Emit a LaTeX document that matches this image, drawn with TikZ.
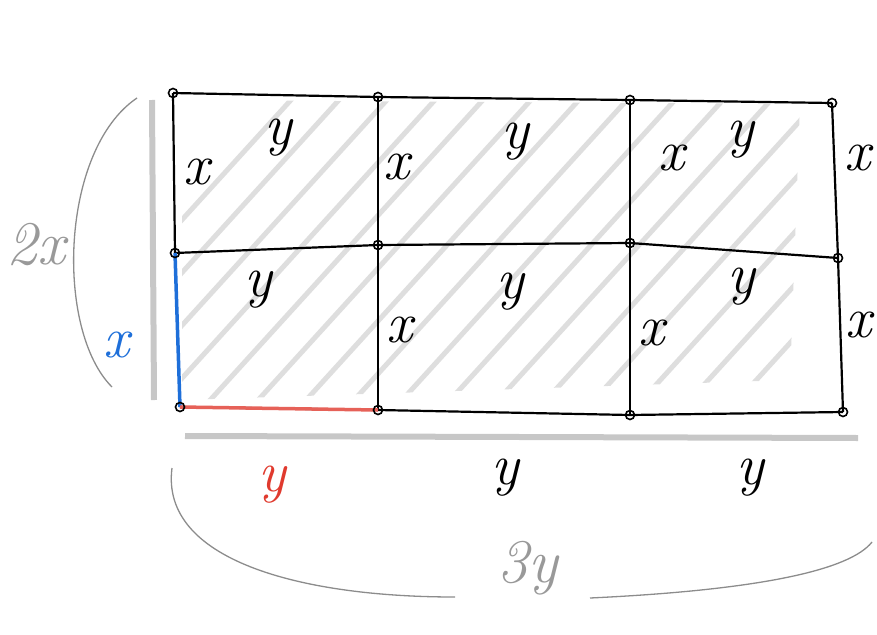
\documentclass[tikz,border=0pt]{standalone}
\usepackage{fontspec}
\usepackage{xcolor}
\definecolor{sketchBlue}{HTML}{1E6FD9}
\definecolor{sketchRed}{HTML}{E03A2E}
\usetikzlibrary{calc}
\tikzset{%
  gridLine/.style={draw=black, line width=2.2pt},
  vertexDot/.style={draw=black, line width=1.6pt, circle, inner sep=0pt, minimum size=9pt},
  hatchLine/.style={draw=black!13, line width=5pt, line cap=round},
  shadowLine/.style={draw=black!22, line width=6pt},
  braceLine/.style={draw=black!45, line width=1.3pt},
  edgeLabel/.style={font=\fontsize{58}{58}\selectfont\itshape},
  dimLabel/.style={font=\fontsize{62}{62}\selectfont\itshape, text=black!40},
}

\begin{document}
\begin{tikzpicture}[x=1pt, y=-1pt]
  \useasboundingbox (0,0) rectangle (877,634);
  % grid corners
  \coordinate (a1) at (173,93);  \coordinate (a2) at (378,97);
  \coordinate (a3) at (630,100); \coordinate (a4) at (832,103);
  \coordinate (b1) at (175,253); \coordinate (b2) at (378,245);
  \coordinate (b3) at (630,243); \coordinate (b4) at (838,258);
  \coordinate (c1) at (180,407); \coordinate (c2) at (378,410);
  \coordinate (c3) at (630,415); \coordinate (c4) at (843,412);
  % hatching
  \begin{scope}
    \clip (182,100) -- (800,104) -- (790,380) -- (182,400) -- cycle;
    \foreach \s in {0,48,...,1000}
      \draw[hatchLine] (\s,420) -- ++(300,-330);
  \end{scope}
  % shadows
  \draw[shadowLine] (152,100) -- (154,400);
  \draw[shadowLine] (185,436) -- (858,438);
  % grid
  \draw[gridLine] (a1) -- (a2) -- (a3) -- (a4);
  \draw[gridLine] (b1) -- (b2) -- (b3) -- (b4);
  \draw[gridLine] (c1) -- (c2) -- (c3) -- (c4);
  \draw[gridLine] (a1) -- (b1);
  \draw[gridLine] (a2) -- (b2) -- (c2);
  \draw[gridLine] (a3) -- (b3) -- (c3);
  \draw[gridLine] (a4) -- (b4) -- (c4);
  \draw[draw=sketchBlue, line width=3.5pt] (b1) -- (c1);
  \draw[draw=sketchRed!80, line width=3.5pt] (c1) -- (c2);
  \foreach \v in {a1,a2,a3,a4,b1,b2,b3,b4,c1,c2,c3,c4}
    \node[vertexDot] at (\v) {};
  % braces
  \coordinate (lbTop) at (137,98);
  \coordinate (lbBot) at (112,387);
  \draw[braceLine] (lbTop) .. controls (60,150) and (55,330) .. (lbBot);
  \coordinate (bbLeft) at (172,468);
  \coordinate (bbMidL) at (455,597);
  \coordinate (bbMidR) at (590,598);
  \coordinate (bbRight) at (872,542);
  \draw[braceLine] (bbLeft) .. controls (160,560) and (300,597) .. (bbMidL);
  \draw[braceLine] (bbMidR) .. controls (760,590) and (850,570) .. (bbRight);
  % labels
  \node[edgeLabel] (xa) at (197,172) {x};
  \node[edgeLabel] (ya) at (278,138) {y};
  \node[edgeLabel] (xb) at (397,167) {x};
  \node[edgeLabel] (yb) at (515,142) {y};
  \node[edgeLabel] (xc) at (672,158) {x};
  \node[edgeLabel] (yc) at (740,140) {y};
  \node[edgeLabel] (xd) at (858,158) {x};
  \node[edgeLabel] (ye) at (258,290) {y};
  \node[edgeLabel] (yf) at (510,292) {y};
  \node[edgeLabel] (xe) at (400,330) {x};
  \node[edgeLabel] (xf) at (652,333) {x};
  \node[edgeLabel] (yg) at (741,287) {y};
  \node[edgeLabel] (xg) at (859,325) {x};
  \node[edgeLabel, text=sketchBlue] (xBlue) at (117,345) {x};
  \node[edgeLabel, text=sketchRed] (yRed) at (272,485) {y};
  \node[edgeLabel] (yMid) at (505,478) {y};
  \node[edgeLabel] (yRight) at (750,478) {y};
  \node[dimLabel] (twoX) at (36,245) {2x};
  \node[dimLabel] (threeY) at (528,568) {3y};
\end{tikzpicture}
\end{document}
